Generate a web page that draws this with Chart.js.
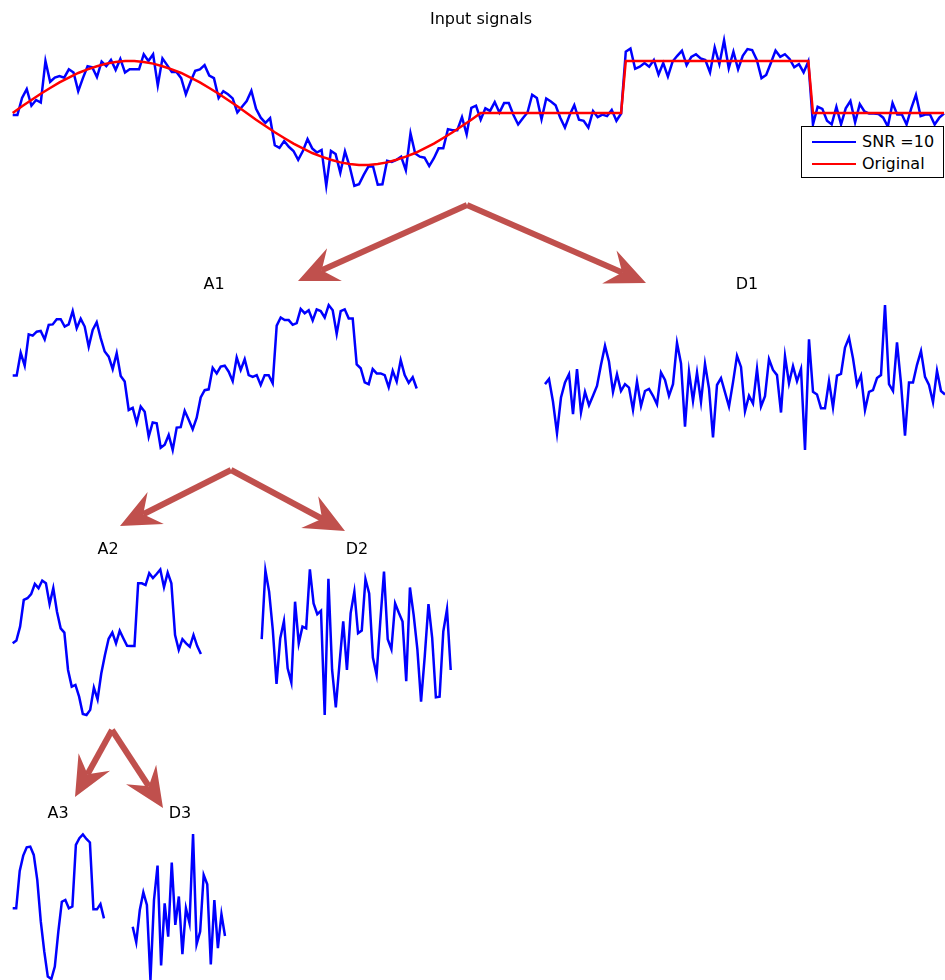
<!DOCTYPE html>
<html>
<head>
<meta charset="utf-8">
<script src="https://cdn.jsdelivr.net/npm/chart.js@4/dist/chart.umd.min.js"></script>
<style>
  html, body { margin: 0; padding: 0; background: #fff; }
  #page { position: relative; width: 945px; height: 980px; overflow: hidden; font-family: "DejaVu Sans", sans-serif; }
  canvas { position: absolute; }
  .ttl { position: absolute; font-size: 16px; color: #000; transform: translate(-50%, -50%); white-space: nowrap; }
  #legend { position: absolute; left: 801px; top: 126px; width: 141px; height: 50px; background: #fff; border: 1px solid #000; }
  #legend .sw { position: absolute; left: 10px; width: 44px; height: 2px; }
  #legend .lb { position: absolute; left: 60px; font-size: 16px; line-height: 16px; }
</style>
</head>
<body>
<div id="page">
  <canvas id="arrows" width="945" height="980" style="left:0;top:0"></canvas>
</div>
<script>
// ---- data ----
// noisy input (200 samples)
const inputNoisy = [
  -0.04,-0.04,0.29,0.46,0.14,0.25,0.20,1.00,0.60,0.68,
  0.71,0.68,0.84,0.78,0.42,0.67,0.90,0.88,0.69,0.99,
  0.90,1.02,0.83,1.04,0.78,0.84,0.84,0.84,1.13,1.00,
  1.13,0.53,1.05,0.92,0.79,0.79,0.67,0.36,0.60,0.81,
  0.84,0.92,0.72,0.67,0.29,0.42,0.36,0.28,0.01,0.12,
  0.23,0.43,0.08,-0.09,-0.19,-0.10,-0.62,-0.67,-0.54,-0.65,
  -0.73,-0.90,-0.73,-0.50,-0.68,-0.76,-0.71,-1.40,-0.73,-0.79,
  -1.15,-0.74,-1.03,-1.40,-1.37,-1.19,-1.03,-1.03,-1.38,-1.37,
  -0.92,-0.94,-0.90,-0.84,-1.10,-0.39,-0.78,-0.84,-0.86,-1.02,
  -0.87,-0.68,-0.68,-0.31,-0.33,-0.33,-0.08,-0.41,0.10,0.14,
  -0.13,0.09,0.04,0.21,0.01,0.19,0.19,-0.04,-0.22,-0.10,
  0.01,0.35,0.29,-0.12,0.28,0.22,0.15,-0.09,-0.28,-0.04,
  0.15,-0.13,-0.15,-0.28,0.04,-0.08,-0.03,-0.06,0.06,-0.15,
  -0.01,1.18,1.24,0.85,0.89,0.96,0.89,1.02,0.74,0.96,
  0.70,0.99,1.10,1.20,0.92,1.08,1.13,1.05,1.02,0.78,
  1.26,0.94,1.40,0.86,1.18,0.84,1.10,1.23,1.21,1.02,
  0.67,0.73,0.96,1.20,1.08,1.13,1.04,0.88,0.94,0.78,
  0.99,-0.22,0.12,0.08,-0.15,-0.22,0.12,-0.22,0.09,0.23,
  -0.18,0.17,0.03,-0.01,-0.01,-0.02,-0.09,-0.26,0.19,-0.03,
  -0.03,-0.22,0.09,0.35,-0.06,-0.03,-0.03,-0.22,-0.09,-0.01
];
// clean reference signal: sample positions and values
const originalX = [
  1,3,5,7,9,11,13,15,17,19,21,23,25,27,29,31,33,35,37,39,41,43,45,47,49,51,
  53,55,57,59,61,63,65,67,69,71,73,75,77,79,81,83,85,87,89,91,93,95,97,99,101,
  131,132,171,172,200
];
const originalY = [
  0,0.13,0.25,0.37,0.48,0.59,0.68,0.77,0.84,0.90,0.95,0.98,1.00,1.00,0.98,0.95,0.90,0.84,0.77,0.68,0.59,0.48,0.37,0.25,0.13,0,
  -0.13,-0.25,-0.37,-0.48,-0.59,-0.68,-0.77,-0.84,-0.90,-0.95,-0.98,-1.00,-1.00,-0.98,-0.95,-0.90,-0.84,-0.77,-0.68,-0.59,-0.48,-0.37,-0.25,-0.13,0,
  0,1,1,0,0
];
// level-1 approximation and detail
const approx1 = [
  0.01,0.01,0.54,0.24,0.97,0.94,1.03,1.05,0.85,1.19,
  1.20,1.32,1.32,1.15,1.20,1.51,1.11,1.33,1.15,0.68,
  1.07,1.25,0.88,0.57,0.45,0.16,0.53,0.00,-0.13,-0.79,
  -0.74,-1.09,-0.71,-0.83,-1.41,-1.08,-1.10,-1.67,-1.60,-1.37,
  -1.72,-1.20,-1.19,-0.81,-1.02,-1.24,-0.97,-0.50,-0.33,-0.31,
  0.19,0.06,0.22,0.24,0.10,-0.12,0.43,0.14,0.39,0.02,
  -0.02,0.02,-0.21,0.02,0.02,-0.17,1.17,1.36,1.30,1.30,
  1.19,1.23,1.56,1.46,1.53,1.29,1.55,1.51,1.36,1.65,
  1.53,0.98,1.51,1.55,1.34,1.34,0.27,0.18,-0.15,-0.19,
  0.16,0.06,0.06,0.02,-0.26,0.12,-0.13,0.37,0.02,-0.16,
  -0.03,-0.29
];
const detail1 = [
  0.02,0.14,-0.39,-1.12,-0.29,0.06,0.25,-0.68,0.37,-0.64,
  -0.16,-0.47,-0.25,-0.02,0.47,0.91,0.54,-0.16,0.25,-0.14,
  0.02,-0.06,-0.58,0.08,-0.49,-0.14,-0.09,-0.25,-0.45,0.29,
  0.12,-0.25,0.02,0.98,0.50,-0.97,0.31,-0.37,0.29,-0.39,
  0.49,-0.08,-1.22,0.00,0.16,-0.17,-0.50,0.06,0.68,0.42,
  -0.61,-0.25,-0.43,0.37,-0.50,-0.26,0.60,0.35,0.23,-0.64,
  0.67,0.04,0.44,0.09,0.37,-1.51,1.06,-0.16,-0.22,-0.54,
  -0.54,0.09,-0.52,0.22,0.26,0.87,1.10,0.62,0.00,0.22,
  -0.58,-0.16,-0.12,0.16,0.23,1.86,0.02,-0.14,0.99,0.04,
  -1.18,0.06,0.06,0.47,0.79,0.19,0.00,-0.40,0.33,-0.14,
  -0.22,-0.39
];
// level-2 approximation and detail
const approx2 = [
  0,0.08,0.48,1.25,1.30,1.42,1.71,1.59,1.81,1.73,
  1.13,1.59,0.91,0.43,0.31,-0.77,-1.25,-1.20,-1.54,-2.04,
  -2.07,-1.92,-1.28,-1.62,-0.87,-0.34,0.13,0.31,0,0.36,
  0.14,-0.07,-0.08,-0.08,1.73,1.73,1.68,2.02,1.88,2.00,
  2.13,1.62,2.04,1.73,0.24,-0.19,0.12,0,-0.10,0.24,
  -0.08,-0.31
];
const detail2 = [
  0.12,2.10,1.49,0.38,-1.17,0.14,0.64,-0.72,-1.13,1.20,
  0,0.48,0.43,2.13,1.15,0.84,0.94,-2.07,1.86,-0.77,
  -1.85,-0.58,0.63,-0.77,0.87,1.49,0.29,0.37,1.85,1.44,
  -0.41,-0.91,0.63,2.07,0.12,-0.17,1.15,0.88,0.63,-1.09,
  1.61,0.82,-0.17,-1.68,-0.37,1.13,0.16,-1.56,-1.54,0.34,
  0.98,-0.77
];
// level-3 approximation and detail
const approx3 = [
  0,0,1.08,1.52,1.76,1.78,1.54,0.82,-0.38,-1.25,
  -1.97,-2.04,-1.68,-0.67,0.19,0.24,0,0.05,1.83,2.02,
  2.13,2.00,1.90,-0.03,-0.03,0.12,-0.29
];
const detail3 = [
  -0.53,-0.98,-0.05,0.46,0.10,-2.07,0.24,1.23,-1.65,0.14,
  -0.82,1.32,-0.48,0.34,-1.32,0,-0.43,2.14,-1.04,-0.67,
  0.96,0.69,-1.62,0.24,-1.15,-0.17,-0.80
];
const panelTitles = ['Input signals', 'A1', 'D1', 'A2', 'D2', 'A3', 'D3'];
const legendLabels = ['SNR =10', 'Original'];

// ---- layout of each panel (page pixels) ----
// box: canvas rectangle; x0/dx: pixel of sample 1 and spacing; zero/unit: pixel of value 0 and pixels per unit
const panels = [
  { box: [0, 30, 945, 170],  x0: 12.7,  dx: 4.68,  zero: 113,   unit: 52,
    series: [{ v: inputNoisy, color: '#0000ff' }, { x: originalX, v: originalY, color: '#ff0000' }] },
  { box: [0, 290, 430, 170], x0: 12.7,  dx: 4.0,   zero: 376,   unit: 43, series: [{ v: approx1, color: '#0000ff' }] },
  { box: [530, 290, 415, 170], x0: 545, dx: 4.0,   zero: 385,   unit: 43, series: [{ v: detail1, color: '#0000ff' }] },
  { box: [0, 555, 220, 170], x0: 12.7,  dx: 3.69,  zero: 643.3, unit: 34.67, series: [{ v: approx2, color: '#0000ff' }] },
  { box: [245, 555, 220, 170], x0: 261.7, dx: 3.706, zero: 643.3, unit: 34.67, series: [{ v: detail2, color: '#0000ff' }] },
  { box: [0, 820, 122, 160], x0: 12.7,  dx: 3.51,  zero: 908.3, unit: 34.67, series: [{ v: approx3, color: '#0000ff' }] },
  { box: [122, 820, 122, 160], x0: 132.7, dx: 3.55, zero: 908.3, unit: 34.67, series: [{ v: detail3, color: '#0000ff' }] }
];
const titlePos = [[481, 18], [214, 283], [747, 283], [108, 548], [357, 548], [58, 812], [180, 812]];

// decomposition arrows: [from x, from y, to x, to y]
const arrowList = [
  [467, 205, 298, 281], [467, 205, 646, 283],
  [231, 470, 120, 526], [231, 470, 345, 531],
  [112, 730, 75, 797],  [112, 730, 163, 808]
];

const page = document.getElementById('page');
const baseOpts = () => ({
  responsive: false, animation: false, events: [],
  layout: { padding: 0 },
  plugins: { legend: { display: false }, tooltip: { enabled: false }, title: { display: false } },
  elements: { point: { radius: 0 }, line: { tension: 0, borderWidth: 2.5 } }
});

panels.forEach((p, idx) => {
  const [L, T, W, H] = p.box;
  const c = document.createElement('canvas');
  c.width = W; c.height = H;
  c.style.left = L + 'px'; c.style.top = T + 'px';
  c.style.zIndex = 2;
  page.appendChild(c);
  const xmin = 1 - (p.x0 - L) / p.dx;
  const xmax = xmin + W / p.dx;
  const ymax = (p.zero - T) / p.unit;
  const ymin = (p.zero - T - H) / p.unit;
  const opts = baseOpts();
  opts.scales = {
    x: { type: 'linear', display: false, min: xmin, max: xmax },
    y: { type: 'linear', display: false, min: ymin, max: ymax }
  };
  new Chart(c.getContext('2d'), {
    type: 'line',
    data: {
      datasets: p.series.map(s => ({
        data: s.v.map((v, i) => ({ x: s.x ? s.x[i] : i + 1, y: v })),
        borderColor: s.color, borderWidth: 2.5, fill: false, pointRadius: 0,
        borderJoinStyle: 'miter', clip: false
      })).reverse()
    },
    options: opts
  });
  const t = document.createElement('div');
  t.className = 'ttl';
  t.textContent = panelTitles[idx];
  t.style.left = titlePos[idx][0] + 'px';
  t.style.top = titlePos[idx][1] + 'px';
  page.appendChild(t);
});

// legend box over the input panel
const lg = document.createElement('div');
lg.id = 'legend'; lg.style.zIndex = 3;
legendLabels.forEach((txt, i) => {
  const sw = document.createElement('div');
  sw.className = 'sw';
  sw.style.top = (14 + i * 22) + 'px';
  sw.style.background = i === 0 ? '#0000ff' : '#ff0000';
  lg.appendChild(sw);
  const lb = document.createElement('div');
  lb.className = 'lb';
  lb.style.top = (7 + i * 22) + 'px';
  lb.textContent = txt;
  lg.appendChild(lb);
});
page.appendChild(lg);

// arrows drawn on a page-sized chart through its scales
const arrowPlugin = {
  id: 'decompArrows',
  afterDraw(chart) {
    const ctx = chart.ctx, xs = chart.scales.x, ys = chart.scales.y;
    ctx.save();
    ctx.fillStyle = '#c0504d';
    ctx.strokeStyle = '#c0504d';
    arrowList.forEach(a => {
      const x1 = xs.getPixelForValue(a[0]), y1 = ys.getPixelForValue(a[1]);
      const x2 = xs.getPixelForValue(a[2]), y2 = ys.getPixelForValue(a[3]);
      const ang = Math.atan2(y2 - y1, x2 - x1);
      const len = 40, half = 18, notch = 26;
      const ux = Math.cos(ang), uy = Math.sin(ang);
      const bx = x2 - ux * len, by = y2 - uy * len;
      const nx = x2 - ux * notch, ny = y2 - uy * notch;
      ctx.lineWidth = 6;
      ctx.lineCap = 'butt';
      ctx.lineJoin = 'miter';
      ctx.beginPath(); ctx.moveTo(x1, y1); ctx.lineTo(nx, ny); ctx.stroke();
      ctx.beginPath();
      ctx.moveTo(x2, y2);
      ctx.lineTo(bx - uy * half, by + ux * half);
      ctx.lineTo(nx, ny);
      ctx.lineTo(bx + uy * half, by - ux * half);
      ctx.closePath();
      ctx.fill();
    });
    ctx.restore();
  }
};
new Chart(document.getElementById('arrows').getContext('2d'), {
  type: 'scatter',
  data: { datasets: [{ data: [] }] },
  options: Object.assign(baseOpts(), {
    scales: {
      x: { type: 'linear', display: false, min: 0, max: 945 },
      y: { type: 'linear', display: false, min: 0, max: 980, reverse: true }
    }
  }),
  plugins: [arrowPlugin]
});
</script>
</body>
</html>
